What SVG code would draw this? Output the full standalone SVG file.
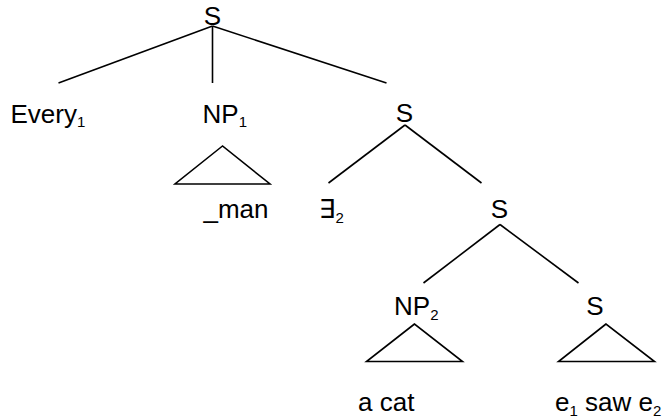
<svg xmlns="http://www.w3.org/2000/svg" width="669" height="420" viewBox="0 0 669 420">
  <style>
    .lbl { font-family: "Liberation Sans", "DejaVu Sans", Arial, sans-serif; font-size: 26px; fill: #000; }
    .sub { font-size: 15px; }
    .edge { stroke: #000; stroke-width: 1.6; fill: none; stroke-linecap: butt; }
    .tri { stroke: #000; stroke-width: 1.6; fill: none; stroke-linejoin: miter; }
  </style>
  <rect width="669" height="420" fill="#fff"/>

  <g id="connectors">
    <!-- root S -->
    <line class="edge" x1="212.5" y1="26" x2="58.5" y2="83"/>
    <line class="edge" x1="212.5" y1="26" x2="212.5" y2="83"/>
    <line class="edge" x1="212.5" y1="26" x2="386.5" y2="83"/>
    <!-- second S -->
    <line class="edge" x1="405" y1="125" x2="328.5" y2="183"/>
    <line class="edge" x1="405" y1="125" x2="481.5" y2="183"/>
    <!-- third S -->
    <line class="edge" x1="500" y1="224.5" x2="423.5" y2="283"/>
    <line class="edge" x1="500" y1="224.5" x2="578.5" y2="283"/>
  </g>

  <g id="node-root">
    <text class="lbl" x="212.5" y="25" text-anchor="middle">S</text>
  </g>

  <g id="node-every">
    <text class="lbl" x="10.5" y="122.5">Every<tspan class="sub" dy="4.5">1</tspan></text>
  </g>

  <g id="node-np1">
    <text class="lbl" x="202.5" y="122.5">NP<tspan class="sub" dy="4.5">1</tspan></text>
    <polygon class="tri" points="222.5,146 175,184 270,184"/>
    <text class="lbl" x="203.5" y="217.5">_man</text>
  </g>

  <g id="node-s2">
    <text class="lbl" x="404.5" y="122" text-anchor="middle">S</text>
  </g>

  <g id="node-exists">
    <text class="lbl" x="319" y="218">∃<tspan class="sub" dy="4.5">2</tspan></text>
  </g>

  <g id="node-s3">
    <text class="lbl" x="499.5" y="217.5" text-anchor="middle">S</text>
  </g>

  <g id="node-np2">
    <text class="lbl" x="394" y="315">NP<tspan class="sub" dy="4.5">2</tspan></text>
    <polygon class="tri" points="414.5,324 366.5,361.5 462.5,361.5"/>
    <text class="lbl" x="358" y="411">a cat</text>
  </g>

  <g id="node-s4">
    <text class="lbl" x="595" y="315" text-anchor="middle">S</text>
    <polygon class="tri" points="606,324 558.5,361.5 654.5,361.5"/>
    <text class="lbl" x="555" y="411">e<tspan class="sub" dy="4.5">1</tspan><tspan dy="-4.5"> saw e</tspan><tspan class="sub" dy="4.5">2</tspan></text>
  </g>
</svg>
